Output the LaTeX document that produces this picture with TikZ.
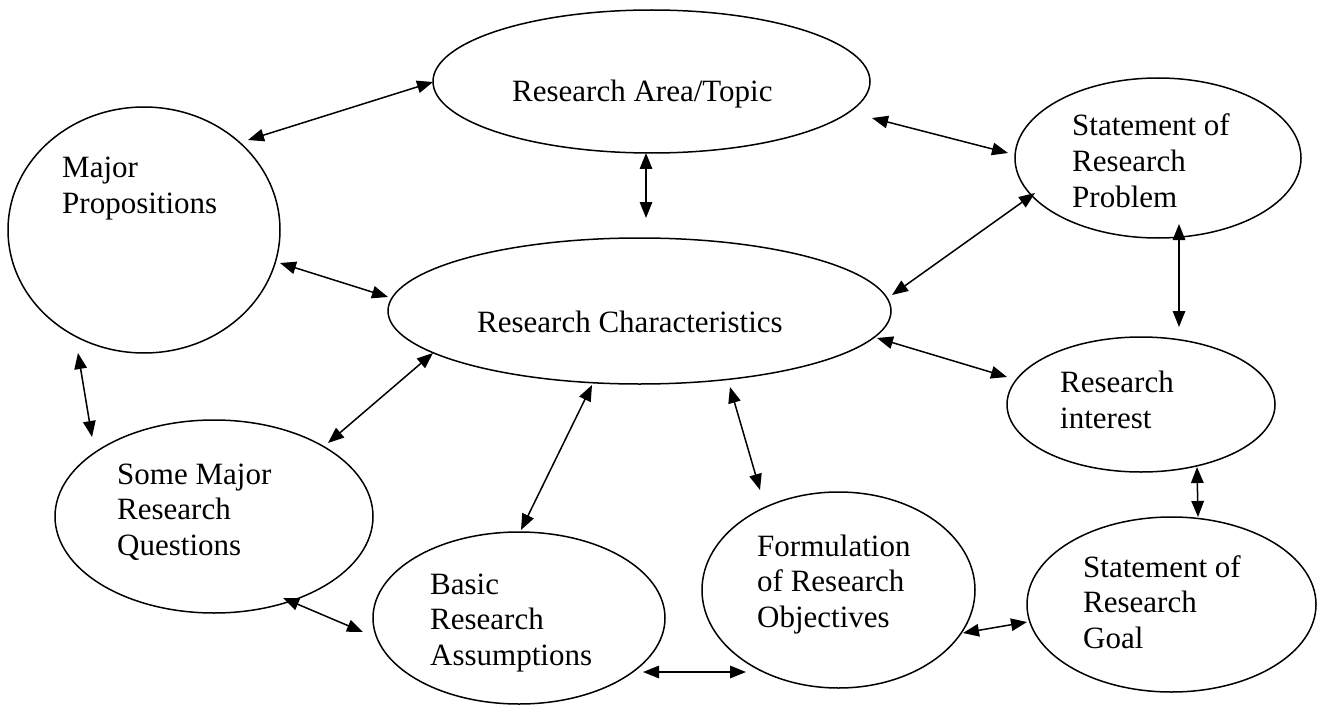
\documentclass[tikz,border=0pt]{standalone}
\usepackage{fontspec}
\setmainfont{Liberation Serif}
\usetikzlibrary{arrows.meta,shapes.geometric}
\begin{document}
\begin{tikzpicture}[x=1pt,y=-1pt,
  bubble/.style={draw, ellipse, line width=1.5pt, inner sep=0pt},
  lbl/.style={anchor=base west, inner sep=0pt, align=left,
              font=\fontsize{31}{35.5}\selectfont},
  link/.style={line width=1.5pt,
     {Triangle[length=16pt,width=12.5pt]}-{Triangle[length=16pt,width=12.5pt]}}]
\useasboundingbox (0,0) rectangle (1328,706);

% concept bubbles
\node[bubble, minimum width=272pt, minimum height=246pt] (mp)   at (144,230)    {};
\node[bubble, minimum width=437pt, minimum height=143pt] (top)  at (651.5,81.5) {};
\node[bubble, minimum width=503pt, minimum height=146pt] (rc)   at (639.5,311)  {};
\node[bubble, minimum width=286pt, minimum height=160pt] (srp)  at (1158,158)   {};
\node[bubble, minimum width=268pt, minimum height=135pt] (ri)   at (1141,404.5) {};
\node[bubble, minimum width=289pt, minimum height=175pt] (srg)  at (1171.5,604.5) {};
\node[bubble, minimum width=273pt, minimum height=196pt] (fro)  at (838.5,590)  {};
\node[bubble, minimum width=292pt, minimum height=172pt] (bra)  at (519,618)    {};
\node[bubble, minimum width=318pt, minimum height=193pt] (smrq) at (214,516.5)  {};

% bubble captions (anchored on the baseline of the last line)
\node[lbl] (mp-t)   at (62,213)   {Major\\Propositions};
\node[lbl] (top-t)  at (512,102)  {Research Area/Topic};
\node[lbl] (rc-t)   at (477,332)  {Research Characteristics};
\node[lbl] (srp-t)  at (1072,207) {Statement of\\Research\\Problem};
\node[lbl] (ri-t)   at (1060,428) {Research\\interest};
\node[lbl] (srg-t)  at (1083,648) {Statement of\\Research\\Goal};
\node[lbl] (fro-t)  at (757,627)  {Formulation\\of Research\\Objectives};
\node[lbl] (bra-t)  at (430,665)  {Basic\\Research\\Assumptions};
\node[lbl] (smrq-t) at (117,555)  {Some Major\\Research\\Questions};

% arrow end points
\coordinate (mp-top1)  at (248,140);  \coordinate (mp-top2)  at (433,82);
\coordinate (top-rc1)  at (646,153);  \coordinate (top-rc2)  at (646,218);
\coordinate (top-srp1) at (872,118);  \coordinate (top-srp2) at (1008,153);
\coordinate (mp-rc1)   at (280,263);  \coordinate (mp-rc2)   at (388,297);
\coordinate (rc-srp1)  at (892,295);  \coordinate (rc-srp2)  at (1035,193);
\coordinate (srp-ri1)  at (1179,224); \coordinate (srp-ri2)  at (1179,327);
\coordinate (rc-ri1)   at (877,338);  \coordinate (rc-ri2)   at (1007,377);
\coordinate (mp-sq1)   at (78,353);   \coordinate (mp-sq2)   at (92,437);
\coordinate (rc-sq1)   at (433,353);  \coordinate (rc-sq2)   at (328,443);
\coordinate (rc-bra1)  at (592,385);  \coordinate (rc-bra2)  at (521,530);
\coordinate (rc-fro1)  at (730,387);  \coordinate (rc-fro2)  at (760,490);
\coordinate (ri-srg1)  at (1197,467); \coordinate (ri-srg2)  at (1198,517);
\coordinate (sq-bra1)  at (283,598);  \coordinate (sq-bra2)  at (363,632);
\coordinate (bra-fro1) at (643,672);  \coordinate (bra-fro2) at (746,672);
\coordinate (fro-srg1) at (963,633);  \coordinate (fro-srg2) at (1027,622);

% two-way links
\draw[link] (mp-top1)  -- (mp-top2);
\draw[link] (top-rc1)  -- (top-rc2);
\draw[link] (top-srp1) -- (top-srp2);
\draw[link] (mp-rc1)   -- (mp-rc2);
\draw[link] (rc-srp1)  -- (rc-srp2);
\draw[link] (srp-ri1)  -- (srp-ri2);
\draw[link] (rc-ri1)   -- (rc-ri2);
\draw[link] (mp-sq1)   -- (mp-sq2);
\draw[link] (rc-sq1)   -- (rc-sq2);
\draw[link] (rc-bra1)  -- (rc-bra2);
\draw[link] (rc-fro1)  -- (rc-fro2);
\draw[link] (ri-srg1)  -- (ri-srg2);
\draw[link] (sq-bra1)  -- (sq-bra2);
\draw[link] (bra-fro1) -- (bra-fro2);
\draw[link] (fro-srg1) -- (fro-srg2);
\end{tikzpicture}
\end{document}
